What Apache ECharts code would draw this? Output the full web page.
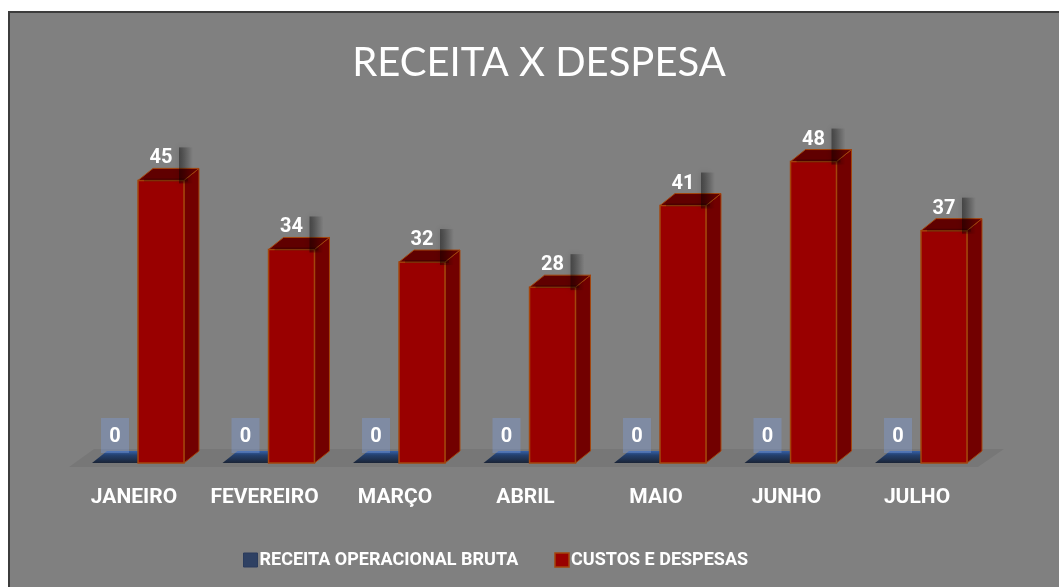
<!DOCTYPE html>
<html>
<head>
<meta charset="utf-8">
<script src="https://cdn.jsdelivr.net/npm/echarts@6/dist/echarts.min.js"></script>
<style>
  html, body { margin: 0; padding: 0; background: #ffffff; }
  #main { width: 1059px; height: 587px; }
</style>
</head>
<body>
<div id="main"></div>
<script>
// dados
var categorias = ['JANEIRO', 'FEVEREIRO', 'MARÇO', 'ABRIL', 'MAIO', 'JUNHO', 'JULHO'];
var receita = [0, 0, 0, 0, 0, 0, 0];
var custos = [45, 34, 32, 28, 41, 48, 37];

var FONTE_TITULO = 'Lato, "Open Sans", sans-serif';
var FONTE = 'Roboto, "Noto Sans", sans-serif';

// barra 3D: frente + lado + topo, desenhada a partir das escalas
function barra3d(cores, desloc, rotulo) {
    return function (params, api) {
        var idx = api.value(0);
        var topo = api.coord([idx, api.value(1)]);
        var base = api.coord([idx, 0]);
        var banda = api.size([1, 0])[0];
        var x0 = topo[0] + desloc[0] * banda;
        var x1 = topo[0] + desloc[1] * banda;
        var yT = topo[1], yB = base[1];
        var dx = 15, dy = -12;
        var filhos = [];
        var plano = yB - yT <= 0.5;

        if (!plano) {
            filhos.push({
                type: 'polygon',
                shape: { points: [[x1, yB], [x1 + dx, yB + dy], [x1 + dx, yT + dy], [x1, yT]] },
                style: { fill: cores.lado, stroke: cores.borda, lineWidth: 1 }
            });
            filhos.push({
                type: 'rect',
                shape: { x: x0, y: yT, width: x1 - x0, height: yB - yT },
                style: { fill: cores.frente, stroke: cores.borda, lineWidth: 1.5 }
            });
        }
        filhos.push({
            type: 'polygon',
            shape: { points: [[x0, yT], [x1, yT], [x1 + dx, yT + dy], [x0 + dx, yT + dy]] },
            style: {
                fill: plano ? new echarts.graphic.LinearGradient(0, 0, 0, 1, [
                    { offset: 0, color: '#3560a8' },
                    { offset: 0.35, color: '#24406e' },
                    { offset: 1, color: '#1a2436' }
                ]) : cores.topo,
                stroke: plano ? null : cores.borda,
                lineWidth: 1
            }
        });

        // rotulo com caixa
        var cx = (x0 + x1) / 2;
        var bx = cx - rotulo.w / 2, by = yT - rotulo.sobe;
        if (rotulo.sombra) {
            filhos.push({
                type: 'rect',
                shape: { x: bx + rotulo.w, y: by + 3, width: 14, height: rotulo.h + 10 },
                style: {
                    fill: new echarts.graphic.LinearGradient(0, 0, 1, 0, [
                        { offset: 0, color: 'rgba(0,0,0,0.42)' },
                        { offset: 0.5, color: 'rgba(0,0,0,0.2)' },
                        { offset: 1, color: 'rgba(0,0,0,0)' }
                    ]),
                    shadowBlur: 6,
                    shadowColor: 'rgba(0,0,0,0.35)'
                }
            });
            filhos.push({
                type: 'rect',
                shape: { x: x0 + 6, y: yT - 2, width: x1 - x0 - 2, height: 3 },
                style: { fill: 'rgba(0,0,0,0.22)' }
            });
        } else {
            filhos.push({
                type: 'rect',
                shape: { x: bx, y: by, width: rotulo.w, height: rotulo.h },
                style: { fill: rotulo.fundo }
            });
        }
        filhos.push({
            type: 'text',
            style: {
                text: String(api.value(1)),
                x: cx, y: by + rotulo.h / 2 + 1,
                align: 'center', verticalAlign: 'middle',
                fill: '#ffffff', font: 'bold 20px ' + FONTE
            }
        });
        return { type: 'group', children: filhos };
    };
}

var chart = echarts.init(document.getElementById('main'));

chart.setOption({
    backgroundColor: '#ffffff',
    animation: false,
    graphic: [
        {
            type: 'rect', z: -10, silent: true,
            shape: { x: 9, y: 12, width: 1060, height: 590 },
            style: { fill: '#808080', stroke: '#3c3c3c', lineWidth: 2 }
        },
        {
            type: 'polygon', z: -9, silent: true,
            shape: { points: [[69, 467], [978, 467], [1004, 449], [94, 449]] },
            style: { fill: 'rgba(0,0,0,0.07)' }
        }
    ],
    title: {
        text: 'RECEITA X DESPESA',
        left: 534,
        textAlign: 'center',
        top: 38,
        textStyle: { color: '#ffffff', fontFamily: FONTE_TITULO, fontWeight: 'normal', fontSize: 40 }
    },
    legend: {
        left: 238,
        top: 546,
        itemWidth: 14,
        itemHeight: 14,
        itemGap: 36,
        icon: 'rect',
        textStyle: { color: '#ffffff', fontFamily: FONTE, fontWeight: 'bold', fontSize: 18, padding: [0, 0, 0, -3] },
        data: [
            { name: 'RECEITA OPERACIONAL BRUTA', itemStyle: { color: '#2f4163', borderColor: '#2a3b5c', borderWidth: 1 } },
            { name: 'CUSTOS E DESPESAS', itemStyle: { color: '#990000', borderColor: '#a4450c', borderWidth: 1.5 } }
        ]
    },
    grid: { left: 68.75, right: 76.75, top: 149, bottom: 124 },
    xAxis: {
        type: 'category',
        data: categorias,
        axisLine: { show: false },
        axisTick: { show: false },
        axisLabel: { interval: 0, color: '#ffffff', fontFamily: FONTE, fontWeight: 'bold', fontSize: 21, margin: 24 }
    },
    yAxis: {
        type: 'value',
        min: 0,
        max: 50,
        show: false
    },
    series: [
        {
            name: 'RECEITA OPERACIONAL BRUTA',
            type: 'custom',
            itemStyle: { color: '#2f4163' },
            renderItem: barra3d(
                { frente: '#34589a', lado: '#1f2d48', topo: '#1f2b44', borda: '#263a60' },
                [-0.322, 0.031],
                { w: 28, h: 35, sobe: 45, fundo: 'rgba(125,155,215,0.4)', sombra: false }
            ),
            encode: { x: 0, y: 1 },
            data: receita.map(function (v, i) { return [i, v]; })
        },
        {
            name: 'CUSTOS E DESPESAS',
            type: 'custom',
            itemStyle: { color: '#990000' },
            renderItem: barra3d(
                { frente: '#990000', lado: '#720000', topo: '#600000', borda: '#a4450c' },
                [0.031, 0.383],
                { w: 36, h: 26, sobe: 36, fundo: '#808080', sombra: true }
            ),
            encode: { x: 0, y: 1 },
            data: custos.map(function (v, i) { return [i, v]; })
        }
    ]
});
</script>
</body>
</html>
